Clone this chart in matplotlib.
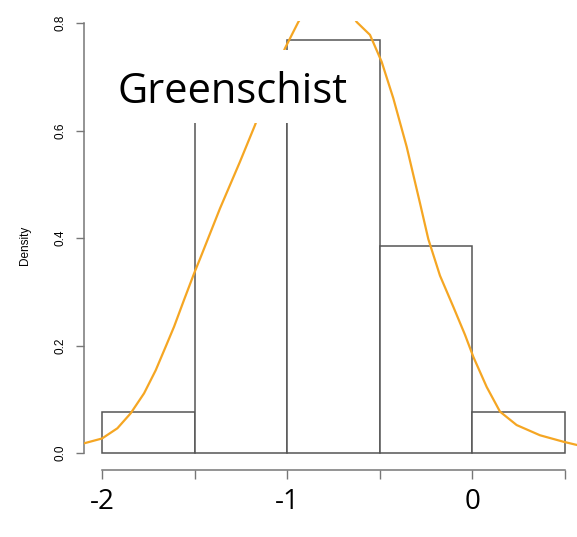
"""Greenschist histogram with density curve (R-style hist + lines)."""
import matplotlib

matplotlib.use("Agg")

import matplotlib.pyplot as plt  # noqa: E402
from matplotlib.patches import Rectangle  # noqa: E402

# histogram bins and densities
bin_edges = [-2.0, -1.5, -1.0, -0.5, 0.0, 0.5]
densities = [0.0769, 0.692, 0.769, 0.385, 0.0769]

# density curve
curve_x = [-2.097, -2.0, -1.917, -1.845, -1.773, -1.710, -1.656, -1.611, -1.557,
           -1.503, -1.47, -1.363, -1.255, -1.174, -1.10, -1.012, -0.940, -0.88,
           -0.78, -0.70, -0.625, -0.553, -0.490, -0.427, -0.355, -0.283, -0.238,
           -0.175, -0.103, -0.040, 0.005, 0.077, 0.149, 0.239, 0.365, 0.491, 0.6]
curve_y = [0.018, 0.027, 0.046, 0.074, 0.111, 0.154, 0.198, 0.235, 0.285,
           0.334, 0.362, 0.455, 0.542, 0.610, 0.680, 0.753, 0.802, 0.835,
           0.860, 0.845, 0.802, 0.778, 0.728, 0.660, 0.570, 0.465, 0.398,
           0.330, 0.272, 0.220, 0.179, 0.123, 0.077, 0.052, 0.033, 0.021, 0.012]

y_ticks = [0.0, 0.2, 0.4, 0.6, 0.8]
y_ticklabels = ["0.0", "0.2", "0.4", "0.6", "0.8"]
x_ticks = [-2.0, -1.5, -1.0, -0.5, 0.0, 0.5]
x_ticklabels = ["-2", "", "-1", "", "0", ""]

W, H = 577, 537
fig = plt.figure(figsize=(W / 100, H / 100), dpi=100)

# plot region in pixels: x -2.1..0.6 -> 83.5..583.5, y -0.032..0.804 -> 470.2..20.9
ax = fig.add_axes([83.5 / W, (H - 470.2) / H, 500 / W, (470.2 - 20.9) / H])
ax.set_xlim(-2.1, 0.6)
ax.set_ylim(-0.032, 0.804)

widths = [b - a for a, b in zip(bin_edges[:-1], bin_edges[1:])]
ax.bar(bin_edges[:-1], densities, width=widths, align="edge",
       facecolor="white", edgecolor="#555555", linewidth=1.1, zorder=2)
ax.plot(curve_x, curve_y, color="#F5A623", linewidth=1.6, zorder=3,
        solid_joinstyle="round")

for s in ("top", "right"):
    ax.spines[s].set_visible(False)
ax.spines["left"].set_bounds(0.0, 0.8)
ax.spines["bottom"].set_bounds(-2.0, 0.5)
for s in ("left", "bottom"):
    ax.spines[s].set_color("#777777")
    ax.spines[s].set_linewidth(1.1)

ax.set_yticks(y_ticks)
ax.set_yticklabels(y_ticklabels, rotation=90, va="center",
                   fontsize=8.5, family="Liberation Sans")
ax.tick_params(axis="y", length=5.5, width=1.0, color="#777777", pad=7)
ax.set_xticks(x_ticks)
ax.set_xticklabels(x_ticklabels, fontsize=20, family="Open Sans")
ax.tick_params(axis="x", length=6.5, width=1.0, color="#777777", pad=6)
ax.set_ylabel("Density", fontsize=8.5, family="Liberation Sans", labelpad=17)

# white label box laid over the plot
fig.patches.append(Rectangle((105 / W, (H - 123) / H), 255 / W, 73 / H,
                             transform=fig.transFigure, facecolor="white",
                             edgecolor="none", zorder=5))
fig.text(118 / W, (H - 103) / H, "Greenschist", fontsize=30, family="Open Sans",
         color="black", ha="left", va="baseline", zorder=6)

fig.savefig("out.png", dpi=100)
